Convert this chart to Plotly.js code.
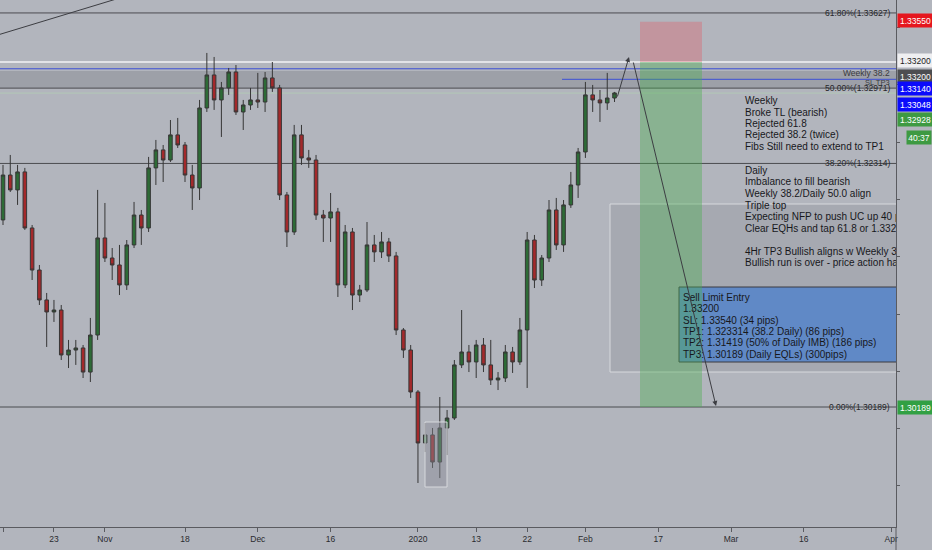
<!DOCTYPE html>
<html><head><meta charset="utf-8">
<script src="https://cdn.plot.ly/plotly-3.0.1.min.js"></script>
<style>html,body{margin:0;padding:0;background:#b2b5bd;} #chart{width:932px;height:550px;}</style>
</head><body><div id="chart"></div>
<script>
// ---------- DATA (USDCAD, daily candles) ----------
const startDate = '2019-10-14';
const openP = [1.31821,1.32213,1.32083,1.32240,1.31751,1.31384,1.31123,1.31018,1.31035,1.30643,
1.30686,1.30704,1.30494,1.30817,1.31664,1.31489,1.31428,1.31254,1.31603,1.31864,
1.31751,1.32275,1.32432,1.32344,1.32563,1.32475,1.32213,1.32100,1.32798,1.33086,
1.32868,1.32973,1.33112,1.32763,1.32824,1.32868,1.32850,1.33060,1.32973,1.32039,
1.31716,1.32563,1.32362,1.32344,1.31864,1.31838,1.31891,1.31254,1.31716,1.31166,
1.31210,1.31603,1.31542,1.31629,1.31507,1.30861,1.30686,1.30320,1.29875,1.29945,
1.29709,1.30006,1.30093,1.30556,1.30669,1.30582,1.30730,1.30556,1.30425,1.30442,
1.30669,1.30582,1.30861,1.31646,1.31297,1.31489,1.31908,1.31603,1.31952,1.32126,
1.32414,1.32912,1.32868,1.32842,1.32885];
const highP = [1.32301,1.32388,1.32301,1.32275,1.31777,1.31428,1.31184,1.31123,1.31079,1.30774,
1.30774,1.30730,1.30966,1.32083,1.31969,1.31576,1.31603,1.31646,1.31978,1.31908,
1.32371,1.32519,1.32475,1.32693,1.32711,1.32501,1.32301,1.32868,1.33278,1.33243,
1.33025,1.33147,1.33173,1.32868,1.32973,1.33104,1.33112,1.33199,1.32999,1.32065,
1.32650,1.32650,1.32432,1.32388,1.31908,1.32056,1.31926,1.31777,1.31751,1.31254,
1.31803,1.31690,1.31716,1.31664,1.31542,1.30878,1.30730,1.30337,1.30049,1.30006,
1.30276,1.30163,1.30599,1.31035,1.30730,1.30774,1.30791,1.30774,1.30494,1.30730,
1.30713,1.30966,1.31716,1.31690,1.31515,1.31995,1.32013,1.31995,1.32240,1.32449,
1.33025,1.32999,1.32955,1.33104,1.32938];
const lowP = [1.31777,1.32065,1.31952,1.31734,1.31297,1.31079,1.30713,1.30931,1.30599,1.30529,
1.30556,1.30442,1.30407,1.30774,1.31454,1.31297,1.31166,1.31210,1.31576,1.31603,
1.31716,1.32126,1.32152,1.32327,1.32449,1.32152,1.31908,1.31995,1.32763,1.32781,
1.32545,1.32912,1.32737,1.32606,1.32781,1.32798,1.32763,1.32938,1.31995,1.31585,
1.31690,1.32301,1.32275,1.31821,1.31629,1.31629,1.31149,1.31227,1.31035,1.31105,
1.31192,1.31454,1.31489,1.31454,1.30817,1.30617,1.30268,1.29526,1.29796,1.29657,
1.29569,1.29770,1.30076,1.30529,1.30494,1.30442,1.30494,1.30381,1.30337,1.30407,
1.30486,1.30556,1.30355,1.31227,1.31245,1.31454,1.31559,1.31542,1.31926,1.32013,
1.32362,1.32763,1.32676,1.32781,1.32850];
const closeP = [1.32213,1.32083,1.32240,1.31751,1.31384,1.31123,1.31018,1.31035,1.30643,1.30686,
1.30704,1.30494,1.30817,1.31664,1.31489,1.31428,1.31254,1.31603,1.31864,1.31751,
1.32275,1.32432,1.32344,1.32563,1.32475,1.32213,1.32100,1.32798,1.33086,1.32868,
1.32973,1.33112,1.32763,1.32824,1.32868,1.32850,1.33060,1.32973,1.32039,1.31716,
1.32563,1.32362,1.32344,1.31864,1.31838,1.31891,1.31254,1.31716,1.31166,1.31210,
1.31603,1.31542,1.31629,1.31507,1.30861,1.30686,1.30320,1.29875,1.29945,1.29709,
1.30006,1.30093,1.30556,1.30669,1.30582,1.30730,1.30556,1.30425,1.30442,1.30669,
1.30582,1.30861,1.31646,1.31297,1.31489,1.31908,1.31603,1.31952,1.32126,1.32414,
1.32912,1.32868,1.32842,1.32885,1.32929];

const tickDates  = ['2019-10-14','2019-10-23','2019-11-01','2019-11-18','2019-12-02','2019-12-16','2020-01-01','2020-01-13','2020-01-22','2020-02-03','2020-02-17','2020-03-02','2020-03-16','2020-04-01'];
const tickLabels = ['14','23','Nov','18','Dec','16','2020','13','22','Feb','17','Mar','16','Apr'];

const fibLabels = ['61.80%','50.00%','38.20%','0.00%'];
const fibPrices = [1.33627, 1.32971, 1.32314, 1.30189];

const entryPrice = 1.33200, stopPrice = 1.33550, targetPrice = 1.30189;
const blueLevel1 = 1.33140, blueLevel2 = 1.33048, lastPrice = 1.32928;
const zoneLow = 1.32973, zoneHigh = 1.33121;

const tagTexts = ['1.33550','1.33200','1.33200','1.33140','1.33048','1.32928','40:37','1.30189'];

const weeklyNotes = ['Weekly','Broke TL (bearish)','Rejected 61.8','Rejected 38.2 (twice)','Fibs Still need to extend to TP1'];
const dailyNotes = ['Daily','Imbalance to fill bearish','Weekly 38.2/Daily 50.0 align','Triple top','Expecting NFP to push UC up 40 pips','Clear EQHs and tap 61.8 or 1.33200','4Hr TP3 Bullish aligns w Weekly 38.2','Bullish run is over - price action has'];
const tradeNotes = ['Sell Limit Entry','1.33200','SL: 1.33540 (34 pips)','TP1: 1.323314 (38.2 Daily) (86 pips)','TP2: 1.31419 (50% of Daily IMB) (186 pips)','TP3: 1.30189 (Daily EQLs) (300pips)'];

// ---------- helpers (trading-day time scale, weekends removed) ----------
const BASE = Date.UTC(2019,9,14);
function tdate(u){
  const w = Math.floor(u/5); const r = u - w*5;
  const di = Math.floor(r); const fr = r - di;
  const ms = BASE + (w*7 + di)*86400000 + Math.round(fr*86400000);
  return new Date(ms).toISOString().replace('T',' ').slice(0,19);
}
const PXDAY = 7.28, PX0 = -0.64;               // layout scale of the picture
const X = px => tdate((px - PX0)/PXDAY);        // pixel -> date on x axis
const Y0 = 1.33740, Y1 = 1.29142, PH = 527;     // y range, plot height
const P = py => Y0 - (Y0 - Y1)*py/PH;           // pixel -> price
const PY = py => 1 - py/PH;                     // pixel -> paper

const dates = openP.map((_, i) => tdate(i + 0.5));

const FONT = 'Liberation Sans, Arial, sans-serif';
const TXT = '#17181c';

const traces = [{
  type:'candlestick', x:dates, open:openP, high:highP, low:lowP, close:closeP,
  increasing:{line:{color:'#363636', width:1}, fillcolor:'#2d6b36'},
  decreasing:{line:{color:'#363636', width:1}, fillcolor:'#a3292b'},
  whiskerwidth:0, hoverinfo:'skip', showlegend:false
},{
  type:'scatter', mode:'text', x:weeklyNotes.map(()=>X(745)),
  y:[101.5,113,124.3,135.6,147].map(P), text:weeklyNotes, textposition:'middle right',
  textfont:{family:FONT, size:10, color:TXT}, hoverinfo:'skip', showlegend:false
},{
  type:'scatter', mode:'text', x:dailyNotes.map(()=>X(745)),
  y:[171,182.7,194.5,206,217.5,229,252.5,263.8].map(P), text:dailyNotes, textposition:'middle right',
  textfont:{family:FONT, size:10, color:TXT}, hoverinfo:'skip', showlegend:false
}];

const hline = (p, color, w, x0) => ({type:'line', xref: x0 ? 'x':'paper', x0: x0 ? x0 : 0, x1: x0 ? X(905) : 1,
  yref:'y', y0:p, y1:p, line:{color:color, width:w}, layer:'below'});

const shapes = [
  {type:'rect', xref:'paper', x0:0, x1:1, yref:'y', y0:zoneLow, y1:zoneHigh, fillcolor:'#9da0a8', line:{width:0}, layer:'below'},
  {type:'rect', xref:'x', x0:X(610), x1:X(905), yref:'y', y0:P(372), y1:P(204), fillcolor:'#a6a9b1', line:{color:'#d7d9dd', width:1}, layer:'below'},
  hline(entryPrice, '#e2e3e7', 2),
  hline(blueLevel1, '#3d4fd6', 1),
  hline(blueLevel2, '#3d4fd6', 1, X(562)),
  hline(lastPrice, '#b3c9b6', 1),
  ...fibPrices.map(p => hline(p, '#4b4c50', 1)),
  {type:'line', xref:'x', yref:'y', x0:X(0), y0:P(34.3), x1:X(160), y1:P(34.3-160*34.3/113), line:{color:'#3c3d42', width:1}},
  {type:'rect', xref:'x', x0:X(425), x1:X(447), yref:'y', y0:P(487), y1:P(422), fillcolor:'rgba(135,138,148,0.45)', line:{color:'#d7d9dd', width:1}, layer:'above'},
  {type:'rect', xref:'x', x0:X(679), x1:X(910), yref:'y', y0:P(362), y1:P(287), fillcolor:'#6089c6', line:{color:'#3a3b40', width:1}, layer:'above'},
  {type:'rect', xref:'x', x0:X(640), x1:X(702), yref:'y', y0:entryPrice, y1:stopPrice, fillcolor:'rgba(242,54,69,0.25)', line:{width:0}, layer:'above'},
  {type:'rect', xref:'x', x0:X(640), x1:X(702), yref:'y', y0:targetPrice, y1:entryPrice, fillcolor:'rgba(76,175,80,0.40)', line:{width:0}, layer:'above'},
  {type:'line', xref:'paper', yref:'paper', x0:1, x1:1, y0:-0.05, y1:0, line:{color:'#5a5b60', width:1}}
];

const annotations = [];
// fib labels
fibPrices.forEach((p,i) => annotations.push({xref:'paper', x:892/896, xanchor:'right', yref:'y', y:p, yanchor:'middle',
  text: fibLabels[i] + '(' + p.toFixed(5) + ')', showarrow:false, font:{family:FONT, size:8.5, color:'#26272b'}}));
annotations.push({xref:'paper', x:892/896, xanchor:'right', yref:'y', y:P(73), yanchor:'middle', text:'Weekly 38.2', showarrow:false, font:{family:FONT, size:8.5, color:'#3a3b40'}});
annotations.push({xref:'paper', x:892/896, xanchor:'right', yref:'y', y:P(82.5), yanchor:'middle', text:'SL TP3', showarrow:false, font:{family:FONT, size:7.5, color:'#3a3b40'}});
// trade notes
[297,308.5,320,331.3,342.7,354].forEach((py,i) => annotations.push({xref:'paper', x:681/896, xanchor:'left', yref:'paper', y:PY(py), yanchor:'middle',
  text:tradeNotes[i], showarrow:false, font:{family:FONT, size:10, color:TXT}}));
// arrows
annotations.push({xref:'x', yref:'y', x:X(629), y:P(57), axref:'x', ayref:'y', ax:X(617), ay:P(98), showarrow:true, arrowhead:2, arrowsize:1, arrowwidth:1, arrowcolor:'#3c3d42', text:''});
annotations.push({xref:'x', yref:'y', x:X(716), y:P(406), axref:'x', ayref:'y', ax:X(633), ay:P(61), showarrow:true, arrowhead:2, arrowsize:1, arrowwidth:1, arrowcolor:'#3c3d42', text:''});
// price tags on the right scale
const tagY = [21, 61, 76, 88.5, 105, 120, 137, 407];
const tagBg = ['#e5161e','#efeff1','#4d4e51','#0b0bfb','#0b0bfb','#3e9a42','#3e9a42','#31a043'];
const tagFg = ['#fff','#1b1b1b','#fff','#fff','#fff','#fff','#fff','#fff'];
tagTexts.forEach((t,i) => {
  const cd = t.indexOf(':') >= 0;
  annotations.push({xref:'paper', x:1, xanchor:'left', xshift: cd ? 10 : 1, yref:'paper', y:PY(tagY[i]), yanchor:'middle',
    text:t, showarrow:false, bgcolor:tagBg[i], width: cd ? 22 : 33, height:11, borderpad:1, align:'center',
    font:{family:FONT, size:8.5, color:tagFg[i]}});
});

const layout = {
  width:932, height:550, margin:{l:0, r:36, t:0, b:23, pad:0},
  paper_bgcolor:'#b2b5bd', plot_bgcolor:'#b2b5bd', showlegend:false,
  xaxis:{type:'date', range:[X(0), X(896)], rangebreaks:[{bounds:['sat','mon']}], rangeslider:{visible:false},
    tickmode:'array', tickvals:tickDates.map(d => d + ' 12:00'), ticktext:tickLabels,
    ticks:'outside', ticklen:4, tickcolor:'#5a5b60', showline:true, linecolor:'#5a5b60', linewidth:1, mirror:false,
    showgrid:false, zeroline:false, tickfont:{family:FONT, size:8.5, color:'#2a2b2f'}, fixedrange:true},
  yaxis:{range:[Y1, Y0], side:'right', showticklabels:false, ticks:'outside', ticklen:3, tickcolor:'#5a5b60',
    tick0:1.30, dtick:0.005, showline:true, linecolor:'#5a5b60', linewidth:1, showgrid:false, zeroline:false, fixedrange:true},
  shapes:shapes, annotations:annotations
};

Plotly.newPlot('chart', traces, layout, {staticPlot:true, displayModeBar:false});
</script></body></html>
